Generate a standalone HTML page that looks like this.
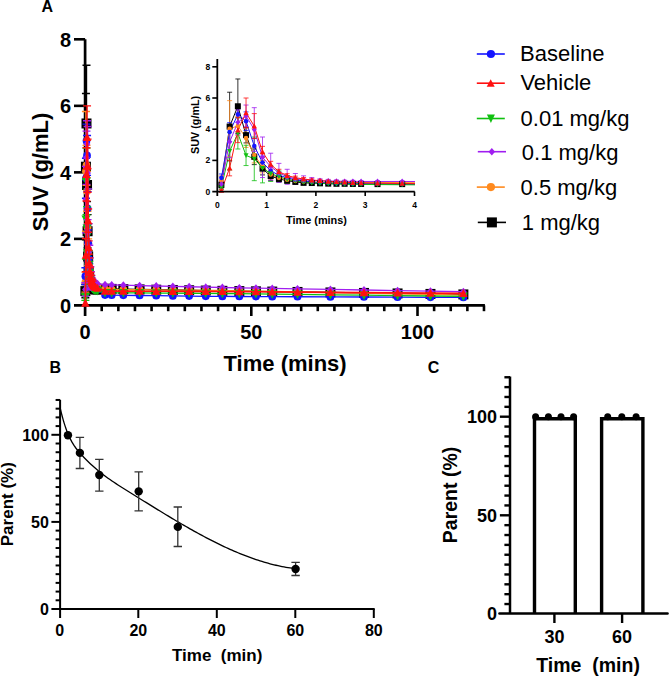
<!DOCTYPE html>
<html><head><meta charset="utf-8"><title>Figure</title>
<style>html,body{margin:0;padding:0;background:#fff;width:669px;height:677px;overflow:hidden}body{position:relative;font-family:"Liberation Sans", sans-serif}</style>
</head><body>
<svg width="669" height="677" viewBox="0 0 669 677" style="position:absolute;left:0;top:0" font-family='"Liberation Sans", sans-serif'>
<rect width="669" height="677" fill="#fff"/>
<text x="41.6" y="11.7" font-size="16" font-weight="bold" text-anchor="start" >A</text>
<g stroke="#000" fill="none">
<path d="M85.10,39.3V316" stroke-width="2.7"/>
<path d="M74,305.4H484.9" stroke-width="2.8"/>
<path d="M74,238.88H85.1" stroke-width="2.6"/>
<path d="M74,172.36H85.1" stroke-width="2.6"/>
<path d="M74,105.84H85.1" stroke-width="2.6"/>
<path d="M74,39.32H85.1" stroke-width="2.6"/>
<path d="M101.72,305.4V311.2" stroke-width="2.6"/>
<path d="M118.34,305.4V311.2" stroke-width="2.6"/>
<path d="M134.96,305.4V311.2" stroke-width="2.6"/>
<path d="M151.58,305.4V311.2" stroke-width="2.6"/>
<path d="M168.20,305.4V311.2" stroke-width="2.6"/>
<path d="M184.82,305.4V311.2" stroke-width="2.6"/>
<path d="M201.44,305.4V311.2" stroke-width="2.6"/>
<path d="M218.06,305.4V311.2" stroke-width="2.6"/>
<path d="M234.68,305.4V311.2" stroke-width="2.6"/>
<path d="M267.92,305.4V311.2" stroke-width="2.6"/>
<path d="M284.54,305.4V311.2" stroke-width="2.6"/>
<path d="M301.16,305.4V311.2" stroke-width="2.6"/>
<path d="M317.78,305.4V311.2" stroke-width="2.6"/>
<path d="M334.40,305.4V311.2" stroke-width="2.6"/>
<path d="M351.02,305.4V311.2" stroke-width="2.6"/>
<path d="M367.64,305.4V311.2" stroke-width="2.6"/>
<path d="M384.26,305.4V311.2" stroke-width="2.6"/>
<path d="M400.88,305.4V311.2" stroke-width="2.6"/>
<path d="M434.12,305.4V311.2" stroke-width="2.6"/>
<path d="M450.74,305.4V311.2" stroke-width="2.6"/>
<path d="M467.36,305.4V311.2" stroke-width="2.6"/>
<path d="M483.98,305.4V311.2" stroke-width="2.6"/>
<path d="M251.30,305.4V316" stroke-width="2.6"/>
<path d="M417.50,305.4V316" stroke-width="2.6"/>
</g>
<g>
<path d="M85.38,284.45V297.75M81.38,284.45h8M81.38,297.75h8" stroke="#000000" stroke-width="1.4" fill="none"/>
<path d="M85.93,93.53V239.88M81.93,93.53h8M81.93,239.88h8" stroke="#000000" stroke-width="1.4" fill="none"/>
<path d="M86.49,65.26V181.67M82.49,65.26h8M82.49,181.67h8" stroke="#000000" stroke-width="1.4" fill="none"/>
<path d="M87.04,168.37V201.63M83.04,168.37h8M83.04,201.63h8" stroke="#000000" stroke-width="1.4" fill="none"/>
<path d="M87.59,214.60V247.86M83.59,214.60h8M83.59,247.86h8" stroke="#000000" stroke-width="1.4" fill="none"/>
<path d="M88.15,243.20V269.81M84.15,243.20h8M84.15,269.81h8" stroke="#000000" stroke-width="1.4" fill="none"/>
<path d="M88.70,262.16V282.12M84.70,262.16h8M84.70,282.12h8" stroke="#000000" stroke-width="1.4" fill="none"/>
<path d="M89.25,271.81V285.11M85.25,271.81h8M85.25,285.11h8" stroke="#000000" stroke-width="1.4" fill="none"/>
<path d="M89.81,277.13V287.11M85.81,277.13h8M85.81,287.11h8" stroke="#000000" stroke-width="1.4" fill="none"/>
<path d="M90.36,281.45V288.10M86.36,281.45h8M86.36,288.10h8" stroke="#000000" stroke-width="1.4" fill="none"/>
<path d="M90.92,284.11V289.44M86.92,284.11h8M86.92,289.44h8" stroke="#000000" stroke-width="1.4" fill="none"/>
<rect x="80.38" y="286.10" width="10.00" height="10.00" fill="#000000"/>
<rect x="80.93" y="161.71" width="10.00" height="10.00" fill="#000000"/>
<rect x="81.49" y="118.47" width="10.00" height="10.00" fill="#000000"/>
<rect x="82.04" y="180.00" width="10.00" height="10.00" fill="#000000"/>
<rect x="82.59" y="226.23" width="10.00" height="10.00" fill="#000000"/>
<rect x="83.15" y="251.51" width="10.00" height="10.00" fill="#000000"/>
<rect x="83.70" y="267.14" width="10.00" height="10.00" fill="#000000"/>
<rect x="84.25" y="273.46" width="10.00" height="10.00" fill="#000000"/>
<rect x="84.81" y="277.12" width="10.00" height="10.00" fill="#000000"/>
<rect x="85.36" y="279.78" width="10.00" height="10.00" fill="#000000"/>
<rect x="85.92" y="281.77" width="10.00" height="10.00" fill="#000000"/>
<rect x="86.47" y="282.11" width="10.00" height="10.00" fill="#000000"/>
<rect x="87.02" y="282.77" width="10.00" height="10.00" fill="#000000"/>
<rect x="87.58" y="283.44" width="10.00" height="10.00" fill="#000000"/>
<rect x="88.13" y="283.77" width="10.00" height="10.00" fill="#000000"/>
<rect x="88.69" y="283.77" width="10.00" height="10.00" fill="#000000"/>
<rect x="89.24" y="284.10" width="10.00" height="10.00" fill="#000000"/>
<rect x="89.80" y="284.10" width="10.00" height="10.00" fill="#000000"/>
<rect x="90.90" y="284.44" width="10.00" height="10.00" fill="#000000"/>
<rect x="92.56" y="284.44" width="10.00" height="10.00" fill="#000000"/>
<rect x="100.04" y="283.77" width="10.00" height="10.00" fill="#000000"/>
<rect x="106.69" y="283.89" width="10.00" height="10.00" fill="#000000"/>
<rect x="118.33" y="284.09" width="10.00" height="10.00" fill="#000000"/>
<rect x="134.61" y="284.38" width="10.00" height="10.00" fill="#000000"/>
<rect x="151.23" y="284.67" width="10.00" height="10.00" fill="#000000"/>
<rect x="167.85" y="284.97" width="10.00" height="10.00" fill="#000000"/>
<rect x="184.14" y="285.25" width="10.00" height="10.00" fill="#000000"/>
<rect x="200.76" y="285.55" width="10.00" height="10.00" fill="#000000"/>
<rect x="217.38" y="285.83" width="10.00" height="10.00" fill="#000000"/>
<rect x="234.33" y="286.08" width="10.00" height="10.00" fill="#000000"/>
<rect x="250.95" y="286.33" width="10.00" height="10.00" fill="#000000"/>
<rect x="267.24" y="286.57" width="10.00" height="10.00" fill="#000000"/>
<rect x="292.50" y="286.95" width="10.00" height="10.00" fill="#000000"/>
<rect x="325.41" y="287.44" width="10.00" height="10.00" fill="#000000"/>
<rect x="358.98" y="287.94" width="10.00" height="10.00" fill="#000000"/>
<rect x="392.56" y="288.44" width="10.00" height="10.00" fill="#000000"/>
<rect x="425.46" y="288.92" width="10.00" height="10.00" fill="#000000"/>
<rect x="458.37" y="289.41" width="10.00" height="10.00" fill="#000000"/>
<polyline points="85.38,291.10 85.93,166.71 86.49,123.47 87.04,185.00 87.59,231.23 88.15,256.51 88.70,272.14 89.25,278.46 89.81,282.12 90.36,284.78 90.92,286.77 91.47,287.11 92.02,287.77 92.58,288.44 93.13,288.77 93.69,288.77 94.24,289.10 94.80,289.10 95.90,289.44 97.56,289.44 105.04,288.77 111.69,288.89 123.33,289.09 139.61,289.38 156.23,289.67 172.85,289.97 189.14,290.25 205.76,290.55 222.38,290.83 239.33,291.08 255.95,291.33 272.24,291.57 297.50,291.95 330.41,292.44 363.98,292.94 397.56,293.44 430.46,293.92 463.37,294.41" fill="none" stroke="#000000" stroke-width="1.3"/>
<path d="M85.38,272.14V292.10M81.38,272.14h8M81.38,292.10h8" stroke="#ff8a1e" stroke-width="1.4" fill="none"/>
<path d="M85.93,111.49V231.23M81.93,111.49h8M81.93,231.23h8" stroke="#ff8a1e" stroke-width="1.4" fill="none"/>
<path d="M86.49,145.42V185.33M82.49,145.42h8M82.49,185.33h8" stroke="#ff8a1e" stroke-width="1.4" fill="none"/>
<path d="M87.04,171.36V211.27M83.04,171.36h8M83.04,211.27h8" stroke="#ff8a1e" stroke-width="1.4" fill="none"/>
<path d="M87.59,210.94V244.20M83.59,210.94h8M83.59,244.20h8" stroke="#ff8a1e" stroke-width="1.4" fill="none"/>
<path d="M88.15,238.88V265.49M84.15,238.88h8M84.15,265.49h8" stroke="#ff8a1e" stroke-width="1.4" fill="none"/>
<path d="M88.70,258.84V278.79M84.70,258.84h8M84.70,278.79h8" stroke="#ff8a1e" stroke-width="1.4" fill="none"/>
<path d="M89.25,269.48V282.78M85.25,269.48h8M85.25,282.78h8" stroke="#ff8a1e" stroke-width="1.4" fill="none"/>
<path d="M89.81,275.13V285.11M85.81,275.13h8M85.81,285.11h8" stroke="#ff8a1e" stroke-width="1.4" fill="none"/>
<path d="M90.36,279.12V285.78M86.36,279.12h8M86.36,285.78h8" stroke="#ff8a1e" stroke-width="1.4" fill="none"/>
<path d="M90.92,281.45V286.77M86.92,281.45h8M86.92,286.77h8" stroke="#ff8a1e" stroke-width="1.4" fill="none"/>
<circle cx="85.38" cy="282.12" r="3.86" fill="#ff8a1e"/>
<circle cx="85.93" cy="171.36" r="3.86" fill="#ff8a1e"/>
<circle cx="86.49" cy="165.38" r="3.86" fill="#ff8a1e"/>
<circle cx="87.04" cy="191.32" r="3.86" fill="#ff8a1e"/>
<circle cx="87.59" cy="227.57" r="3.86" fill="#ff8a1e"/>
<circle cx="88.15" cy="252.18" r="3.86" fill="#ff8a1e"/>
<circle cx="88.70" cy="268.81" r="3.86" fill="#ff8a1e"/>
<circle cx="89.25" cy="276.13" r="3.86" fill="#ff8a1e"/>
<circle cx="89.81" cy="280.12" r="3.86" fill="#ff8a1e"/>
<circle cx="90.36" cy="282.45" r="3.86" fill="#ff8a1e"/>
<circle cx="90.92" cy="284.11" r="3.86" fill="#ff8a1e"/>
<circle cx="91.47" cy="284.78" r="3.86" fill="#ff8a1e"/>
<circle cx="92.02" cy="285.44" r="3.86" fill="#ff8a1e"/>
<circle cx="92.58" cy="285.78" r="3.86" fill="#ff8a1e"/>
<circle cx="93.13" cy="286.11" r="3.86" fill="#ff8a1e"/>
<circle cx="93.69" cy="286.11" r="3.86" fill="#ff8a1e"/>
<circle cx="94.24" cy="286.11" r="3.86" fill="#ff8a1e"/>
<circle cx="94.80" cy="286.11" r="3.86" fill="#ff8a1e"/>
<circle cx="95.90" cy="286.11" r="3.86" fill="#ff8a1e"/>
<circle cx="97.56" cy="286.11" r="3.86" fill="#ff8a1e"/>
<circle cx="105.04" cy="289.44" r="3.86" fill="#ff8a1e"/>
<circle cx="111.69" cy="289.49" r="3.86" fill="#ff8a1e"/>
<circle cx="123.33" cy="289.60" r="3.86" fill="#ff8a1e"/>
<circle cx="139.61" cy="289.74" r="3.86" fill="#ff8a1e"/>
<circle cx="156.23" cy="289.89" r="3.86" fill="#ff8a1e"/>
<circle cx="172.85" cy="290.03" r="3.86" fill="#ff8a1e"/>
<circle cx="189.14" cy="290.18" r="3.86" fill="#ff8a1e"/>
<circle cx="205.76" cy="290.32" r="3.86" fill="#ff8a1e"/>
<circle cx="222.38" cy="290.51" r="3.86" fill="#ff8a1e"/>
<circle cx="239.33" cy="290.84" r="3.86" fill="#ff8a1e"/>
<circle cx="255.95" cy="291.15" r="3.86" fill="#ff8a1e"/>
<circle cx="272.24" cy="291.46" r="3.86" fill="#ff8a1e"/>
<circle cx="297.50" cy="291.94" r="3.86" fill="#ff8a1e"/>
<circle cx="330.41" cy="292.56" r="3.86" fill="#ff8a1e"/>
<circle cx="363.98" cy="293.20" r="3.86" fill="#ff8a1e"/>
<circle cx="397.56" cy="293.83" r="3.86" fill="#ff8a1e"/>
<circle cx="430.46" cy="294.45" r="3.86" fill="#ff8a1e"/>
<circle cx="463.37" cy="295.08" r="3.86" fill="#ff8a1e"/>
<polyline points="85.38,282.12 85.93,171.36 86.49,165.38 87.04,191.32 87.59,227.57 88.15,252.18 88.70,268.81 89.25,276.13 89.81,280.12 90.36,282.45 90.92,284.11 91.47,284.78 92.02,285.44 92.58,285.78 93.13,286.11 93.69,286.11 94.24,286.11 94.80,286.11 95.90,286.11 97.56,286.11 105.04,289.44 111.69,289.49 123.33,289.60 139.61,289.74 156.23,289.89 172.85,290.03 189.14,290.18 205.76,290.32 222.38,290.51 239.33,290.84 255.95,291.15 272.24,291.46 297.50,291.94 330.41,292.56 363.98,293.20 397.56,293.83 430.46,294.45 463.37,295.08" fill="none" stroke="#ff8a1e" stroke-width="1.3"/>
<path d="M85.38,267.82V284.45M81.38,267.82h8M81.38,284.45h8" stroke="#1414ff" stroke-width="1.4" fill="none"/>
<path d="M85.93,158.39V198.30M81.93,158.39h8M81.93,198.30h8" stroke="#1414ff" stroke-width="1.4" fill="none"/>
<path d="M86.49,124.13V157.39M82.49,124.13h8M82.49,157.39h8" stroke="#1414ff" stroke-width="1.4" fill="none"/>
<path d="M87.04,135.44V175.35M83.04,135.44h8M83.04,175.35h8" stroke="#1414ff" stroke-width="1.4" fill="none"/>
<path d="M87.59,191.65V224.91M83.59,191.65h8M83.59,224.91h8" stroke="#1414ff" stroke-width="1.4" fill="none"/>
<path d="M88.15,229.90V256.51M84.15,229.90h8M84.15,256.51h8" stroke="#1414ff" stroke-width="1.4" fill="none"/>
<path d="M88.70,251.19V271.14M84.70,251.19h8M84.70,271.14h8" stroke="#1414ff" stroke-width="1.4" fill="none"/>
<path d="M89.25,263.82V277.13M85.25,263.82h8M85.25,277.13h8" stroke="#1414ff" stroke-width="1.4" fill="none"/>
<path d="M89.81,271.14V281.12M85.81,271.14h8M85.81,281.12h8" stroke="#1414ff" stroke-width="1.4" fill="none"/>
<path d="M90.36,277.13V283.78M86.36,277.13h8M86.36,283.78h8" stroke="#1414ff" stroke-width="1.4" fill="none"/>
<path d="M90.92,280.12V285.44M86.92,280.12h8M86.92,285.44h8" stroke="#1414ff" stroke-width="1.4" fill="none"/>
<circle cx="85.38" cy="276.13" r="3.86" fill="#1414ff"/>
<circle cx="85.93" cy="178.35" r="3.86" fill="#1414ff"/>
<circle cx="86.49" cy="140.76" r="3.86" fill="#1414ff"/>
<circle cx="87.04" cy="155.40" r="3.86" fill="#1414ff"/>
<circle cx="87.59" cy="208.28" r="3.86" fill="#1414ff"/>
<circle cx="88.15" cy="243.20" r="3.86" fill="#1414ff"/>
<circle cx="88.70" cy="261.16" r="3.86" fill="#1414ff"/>
<circle cx="89.25" cy="270.48" r="3.86" fill="#1414ff"/>
<circle cx="89.81" cy="276.13" r="3.86" fill="#1414ff"/>
<circle cx="90.36" cy="280.45" r="3.86" fill="#1414ff"/>
<circle cx="90.92" cy="282.78" r="3.86" fill="#1414ff"/>
<circle cx="91.47" cy="284.78" r="3.86" fill="#1414ff"/>
<circle cx="92.02" cy="286.11" r="3.86" fill="#1414ff"/>
<circle cx="92.58" cy="287.11" r="3.86" fill="#1414ff"/>
<circle cx="93.13" cy="287.77" r="3.86" fill="#1414ff"/>
<circle cx="93.69" cy="288.10" r="3.86" fill="#1414ff"/>
<circle cx="94.24" cy="288.44" r="3.86" fill="#1414ff"/>
<circle cx="94.80" cy="288.77" r="3.86" fill="#1414ff"/>
<circle cx="95.90" cy="289.10" r="3.86" fill="#1414ff"/>
<circle cx="97.56" cy="289.44" r="3.86" fill="#1414ff"/>
<circle cx="105.04" cy="295.09" r="3.86" fill="#1414ff"/>
<circle cx="111.69" cy="295.17" r="3.86" fill="#1414ff"/>
<circle cx="123.33" cy="295.30" r="3.86" fill="#1414ff"/>
<circle cx="139.61" cy="295.50" r="3.86" fill="#1414ff"/>
<circle cx="156.23" cy="295.69" r="3.86" fill="#1414ff"/>
<circle cx="172.85" cy="295.89" r="3.86" fill="#1414ff"/>
<circle cx="189.14" cy="296.08" r="3.86" fill="#1414ff"/>
<circle cx="205.76" cy="296.28" r="3.86" fill="#1414ff"/>
<circle cx="222.38" cy="296.44" r="3.86" fill="#1414ff"/>
<circle cx="239.33" cy="296.51" r="3.86" fill="#1414ff"/>
<circle cx="255.95" cy="296.57" r="3.86" fill="#1414ff"/>
<circle cx="272.24" cy="296.64" r="3.86" fill="#1414ff"/>
<circle cx="297.50" cy="296.74" r="3.86" fill="#1414ff"/>
<circle cx="330.41" cy="296.88" r="3.86" fill="#1414ff"/>
<circle cx="363.98" cy="297.01" r="3.86" fill="#1414ff"/>
<circle cx="397.56" cy="297.15" r="3.86" fill="#1414ff"/>
<circle cx="430.46" cy="297.28" r="3.86" fill="#1414ff"/>
<circle cx="463.37" cy="297.41" r="3.86" fill="#1414ff"/>
<polyline points="85.38,276.13 85.93,178.35 86.49,140.76 87.04,155.40 87.59,208.28 88.15,243.20 88.70,261.16 89.25,270.48 89.81,276.13 90.36,280.45 90.92,282.78 91.47,284.78 92.02,286.11 92.58,287.11 93.13,287.77 93.69,288.10 94.24,288.44 94.80,288.77 95.90,289.10 97.56,289.44 105.04,295.09 111.69,295.17 123.33,295.30 139.61,295.50 156.23,295.69 172.85,295.89 189.14,296.08 205.76,296.28 222.38,296.44 239.33,296.51 255.95,296.57 272.24,296.64 297.50,296.74 330.41,296.88 363.98,297.01 397.56,297.15 430.46,297.28 463.37,297.41" fill="none" stroke="#1414ff" stroke-width="1.3"/>
<path d="M85.38,293.76V300.41M81.38,293.76h8M81.38,300.41h8" stroke="#10c010" stroke-width="1.4" fill="none"/>
<path d="M85.93,179.34V259.17M81.93,179.34h8M81.93,259.17h8" stroke="#10c010" stroke-width="1.4" fill="none"/>
<path d="M86.49,148.08V214.60M82.49,148.08h8M82.49,214.60h8" stroke="#10c010" stroke-width="1.4" fill="none"/>
<path d="M87.04,206.62V249.86M83.04,206.62h8M83.04,249.86h8" stroke="#10c010" stroke-width="1.4" fill="none"/>
<path d="M87.59,188.99V282.12M83.59,188.99h8M83.59,282.12h8" stroke="#10c010" stroke-width="1.4" fill="none"/>
<path d="M88.15,223.58V286.77M84.15,223.58h8M84.15,286.77h8" stroke="#10c010" stroke-width="1.4" fill="none"/>
<path d="M88.70,250.52V283.78M84.70,250.52h8M84.70,283.78h8" stroke="#10c010" stroke-width="1.4" fill="none"/>
<path d="M89.25,261.50V284.78M85.25,261.50h8M85.25,284.78h8" stroke="#10c010" stroke-width="1.4" fill="none"/>
<path d="M89.81,271.14V287.77M85.81,271.14h8M85.81,287.77h8" stroke="#10c010" stroke-width="1.4" fill="none"/>
<path d="M90.36,277.79V287.77M86.36,277.79h8M86.36,287.77h8" stroke="#10c010" stroke-width="1.4" fill="none"/>
<path d="M90.92,282.12V288.77M86.92,282.12h8M86.92,288.77h8" stroke="#10c010" stroke-width="1.4" fill="none"/>
<path d="M91.47,284.11V289.44M87.47,284.11h8M87.47,289.44h8" stroke="#10c010" stroke-width="1.4" fill="none"/>
<polygon points="85.38,301.79 89.88,293.24 80.88,293.24" fill="#10c010"/>
<polygon points="85.93,223.96 90.43,215.41 81.43,215.41" fill="#10c010"/>
<polygon points="86.49,186.04 90.99,177.49 81.99,177.49" fill="#10c010"/>
<polygon points="87.04,232.94 91.54,224.39 82.54,224.39" fill="#10c010"/>
<polygon points="87.59,240.26 92.09,231.71 83.09,231.71" fill="#10c010"/>
<polygon points="88.15,259.88 92.65,251.33 83.65,251.33" fill="#10c010"/>
<polygon points="88.70,271.85 93.20,263.30 84.20,263.30" fill="#10c010"/>
<polygon points="89.25,277.84 93.75,269.29 84.75,269.29" fill="#10c010"/>
<polygon points="89.81,284.16 94.31,275.61 85.31,275.61" fill="#10c010"/>
<polygon points="90.36,287.49 94.86,278.94 85.86,278.94" fill="#10c010"/>
<polygon points="90.92,290.15 95.42,281.60 86.42,281.60" fill="#10c010"/>
<polygon points="91.47,291.48 95.97,282.93 86.97,282.93" fill="#10c010"/>
<polygon points="92.02,292.47 96.52,283.92 87.52,283.92" fill="#10c010"/>
<polygon points="92.58,293.14 97.08,284.59 88.08,284.59" fill="#10c010"/>
<polygon points="93.13,293.81 97.63,285.26 88.63,285.26" fill="#10c010"/>
<polygon points="93.69,294.14 98.19,285.59 89.19,285.59" fill="#10c010"/>
<polygon points="94.24,294.47 98.74,285.92 89.74,285.92" fill="#10c010"/>
<polygon points="94.80,294.80 99.30,286.25 90.30,286.25" fill="#10c010"/>
<polygon points="95.90,295.14 100.40,286.59 91.40,286.59" fill="#10c010"/>
<polygon points="97.56,295.47 102.06,286.92 93.06,286.92" fill="#10c010"/>
<polygon points="105.04,297.46 109.54,288.91 100.54,288.91" fill="#10c010"/>
<polygon points="111.69,297.50 116.19,288.95 107.19,288.95" fill="#10c010"/>
<polygon points="123.33,297.57 127.83,289.02 118.83,289.02" fill="#10c010"/>
<polygon points="139.61,297.67 144.11,289.12 135.11,289.12" fill="#10c010"/>
<polygon points="156.23,297.76 160.73,289.21 151.73,289.21" fill="#10c010"/>
<polygon points="172.85,297.86 177.35,289.31 168.35,289.31" fill="#10c010"/>
<polygon points="189.14,297.96 193.64,289.41 184.64,289.41" fill="#10c010"/>
<polygon points="205.76,298.06 210.26,289.51 201.26,289.51" fill="#10c010"/>
<polygon points="222.38,298.18 226.88,289.63 217.88,289.63" fill="#10c010"/>
<polygon points="239.33,298.39 243.83,289.84 234.83,289.84" fill="#10c010"/>
<polygon points="255.95,298.59 260.45,290.04 251.45,290.04" fill="#10c010"/>
<polygon points="272.24,298.79 276.74,290.24 267.74,290.24" fill="#10c010"/>
<polygon points="297.50,299.10 302.00,290.55 293.00,290.55" fill="#10c010"/>
<polygon points="330.41,299.50 334.91,290.95 325.91,290.95" fill="#10c010"/>
<polygon points="363.98,299.90 368.48,291.35 359.48,291.35" fill="#10c010"/>
<polygon points="397.56,300.31 402.06,291.76 393.06,291.76" fill="#10c010"/>
<polygon points="430.46,300.71 434.96,292.16 425.96,292.16" fill="#10c010"/>
<polygon points="463.37,301.11 467.87,292.56 458.87,292.56" fill="#10c010"/>
<polyline points="85.38,297.08 85.93,219.26 86.49,181.34 87.04,228.24 87.59,235.55 88.15,255.18 88.70,267.15 89.25,273.14 89.81,279.46 90.36,282.78 90.92,285.44 91.47,286.77 92.02,287.77 92.58,288.44 93.13,289.10 93.69,289.44 94.24,289.77 94.80,290.10 95.90,290.43 97.56,290.77 105.04,292.76 111.69,292.80 123.33,292.87 139.61,292.96 156.23,293.06 172.85,293.16 189.14,293.26 205.76,293.35 222.38,293.48 239.33,293.69 255.95,293.89 272.24,294.09 297.50,294.39 330.41,294.79 363.98,295.20 397.56,295.61 430.46,296.01 463.37,296.41" fill="none" stroke="#10c010" stroke-width="1.3"/>
<path d="M85.38,282.78V296.09M81.38,282.78h8M81.38,296.09h8" stroke="#a01ef0" stroke-width="1.4" fill="none"/>
<path d="M85.93,166.37V232.89M81.93,166.37h8M81.93,232.89h8" stroke="#a01ef0" stroke-width="1.4" fill="none"/>
<path d="M86.49,131.12V184.33M82.49,131.12h8M82.49,184.33h8" stroke="#a01ef0" stroke-width="1.4" fill="none"/>
<path d="M87.04,120.81V167.37M83.04,120.81h8M83.04,167.37h8" stroke="#a01ef0" stroke-width="1.4" fill="none"/>
<path d="M87.59,126.46V219.59M83.59,126.46h8M83.59,219.59h8" stroke="#a01ef0" stroke-width="1.4" fill="none"/>
<path d="M88.15,188.99V275.47M84.15,188.99h8M84.15,275.47h8" stroke="#a01ef0" stroke-width="1.4" fill="none"/>
<path d="M88.70,223.58V280.79M84.70,223.58h8M84.70,280.79h8" stroke="#a01ef0" stroke-width="1.4" fill="none"/>
<path d="M89.25,245.20V285.78M85.25,245.20h8M85.25,285.78h8" stroke="#a01ef0" stroke-width="1.4" fill="none"/>
<path d="M89.81,257.84V289.77M85.81,257.84h8M85.81,289.77h8" stroke="#a01ef0" stroke-width="1.4" fill="none"/>
<path d="M90.36,266.82V289.44M86.36,266.82h8M86.36,289.44h8" stroke="#a01ef0" stroke-width="1.4" fill="none"/>
<path d="M90.92,271.81V288.44M86.92,271.81h8M86.92,288.44h8" stroke="#a01ef0" stroke-width="1.4" fill="none"/>
<path d="M91.47,275.47V287.44M87.47,275.47h8M87.47,287.44h8" stroke="#a01ef0" stroke-width="1.4" fill="none"/>
<path d="M92.02,278.13V286.11M88.02,278.13h8M88.02,286.11h8" stroke="#a01ef0" stroke-width="1.4" fill="none"/>
<path d="M92.58,279.46V286.11M88.58,279.46h8M88.58,286.11h8" stroke="#a01ef0" stroke-width="1.4" fill="none"/>
<path d="M93.13,280.45V285.78M89.13,280.45h8M89.13,285.78h8" stroke="#a01ef0" stroke-width="1.4" fill="none"/>
<path d="M93.69,281.12V285.78M89.69,281.12h8M89.69,285.78h8" stroke="#a01ef0" stroke-width="1.4" fill="none"/>
<polygon points="85.38,285.50 88.75,289.44 85.38,293.37 82.00,289.44" fill="#a01ef0"/>
<polygon points="85.93,195.70 89.31,199.63 85.93,203.57 82.56,199.63" fill="#a01ef0"/>
<polygon points="86.49,153.79 89.86,157.73 86.49,161.66 83.11,157.73" fill="#a01ef0"/>
<polygon points="87.04,140.15 90.41,144.09 87.04,148.03 83.66,144.09" fill="#a01ef0"/>
<polygon points="87.59,169.09 90.97,173.03 87.59,176.96 84.22,173.03" fill="#a01ef0"/>
<polygon points="88.15,228.29 91.52,232.23 88.15,236.17 84.77,232.23" fill="#a01ef0"/>
<polygon points="88.70,248.25 92.07,252.18 88.70,256.12 85.32,252.18" fill="#a01ef0"/>
<polygon points="89.25,261.55 92.63,265.49 89.25,269.43 85.88,265.49" fill="#a01ef0"/>
<polygon points="89.81,269.87 93.19,273.80 89.81,277.74 86.44,273.80" fill="#a01ef0"/>
<polygon points="90.36,274.19 93.74,278.13 90.36,282.06 86.99,278.13" fill="#a01ef0"/>
<polygon points="90.92,276.18 94.29,280.12 90.92,284.06 87.54,280.12" fill="#a01ef0"/>
<polygon points="91.47,277.52 94.85,281.45 91.47,285.39 88.10,281.45" fill="#a01ef0"/>
<polygon points="92.02,278.18 95.40,282.12 92.02,286.06 88.65,282.12" fill="#a01ef0"/>
<polygon points="92.58,278.85 95.95,282.78 92.58,286.72 89.20,282.78" fill="#a01ef0"/>
<polygon points="93.13,279.18 96.51,283.12 93.13,287.05 89.76,283.12" fill="#a01ef0"/>
<polygon points="93.69,279.51 97.06,283.45 93.69,287.39 90.31,283.45" fill="#a01ef0"/>
<polygon points="94.24,279.51 97.62,283.45 94.24,287.39 90.87,283.45" fill="#a01ef0"/>
<polygon points="94.80,279.84 98.17,283.78 94.80,287.72 91.42,283.78" fill="#a01ef0"/>
<polygon points="95.90,279.84 99.28,283.78 95.90,287.72 92.53,283.78" fill="#a01ef0"/>
<polygon points="97.56,279.84 100.94,283.78 97.56,287.72 94.19,283.78" fill="#a01ef0"/>
<polygon points="105.04,280.84 108.42,284.78 105.04,288.72 101.67,284.78" fill="#a01ef0"/>
<polygon points="111.69,281.00 115.07,284.94 111.69,288.87 108.32,284.94" fill="#a01ef0"/>
<polygon points="123.33,281.27 126.70,285.21 123.33,289.15 119.95,285.21" fill="#a01ef0"/>
<polygon points="139.61,281.66 142.99,285.59 139.61,289.53 136.24,285.59" fill="#a01ef0"/>
<polygon points="156.23,282.05 159.61,285.98 156.23,289.92 152.86,285.98" fill="#a01ef0"/>
<polygon points="172.85,282.44 176.23,286.38 172.85,290.31 169.48,286.38" fill="#a01ef0"/>
<polygon points="189.14,282.82 192.52,286.76 189.14,290.70 185.77,286.76" fill="#a01ef0"/>
<polygon points="205.76,283.21 209.14,287.15 205.76,291.09 202.39,287.15" fill="#a01ef0"/>
<polygon points="222.38,283.58 225.76,287.52 222.38,291.45 219.01,287.52" fill="#a01ef0"/>
<polygon points="239.33,283.88 242.71,287.81 239.33,291.75 235.96,287.81" fill="#a01ef0"/>
<polygon points="255.95,284.17 259.33,288.11 255.95,292.04 252.58,288.11" fill="#a01ef0"/>
<polygon points="272.24,284.45 275.62,288.39 272.24,292.33 268.87,288.39" fill="#a01ef0"/>
<polygon points="297.50,284.90 300.88,288.84 297.50,292.77 294.13,288.84" fill="#a01ef0"/>
<polygon points="330.41,285.48 333.79,289.41 330.41,293.35 327.04,289.41" fill="#a01ef0"/>
<polygon points="363.98,286.07 367.36,290.00 363.98,293.94 360.61,290.00" fill="#a01ef0"/>
<polygon points="397.56,286.66 400.93,290.59 397.56,294.53 394.18,290.59" fill="#a01ef0"/>
<polygon points="430.46,287.24 433.84,291.17 430.46,295.11 427.09,291.17" fill="#a01ef0"/>
<polygon points="463.37,287.81 466.75,291.75 463.37,295.69 460.00,291.75" fill="#a01ef0"/>
<polyline points="85.38,289.44 85.93,199.63 86.49,157.73 87.04,144.09 87.59,173.03 88.15,232.23 88.70,252.18 89.25,265.49 89.81,273.80 90.36,278.13 90.92,280.12 91.47,281.45 92.02,282.12 92.58,282.78 93.13,283.12 93.69,283.45 94.24,283.45 94.80,283.78 95.90,283.78 97.56,283.78 105.04,284.78 111.69,284.94 123.33,285.21 139.61,285.59 156.23,285.98 172.85,286.38 189.14,286.76 205.76,287.15 222.38,287.52 239.33,287.81 255.95,288.11 272.24,288.39 297.50,288.84 330.41,289.41 363.98,290.00 397.56,290.59 430.46,291.17 463.37,291.75" fill="none" stroke="#a01ef0" stroke-width="1.3"/>
<path d="M85.93,238.55V271.81M81.93,238.55h8M81.93,271.81h8" stroke="#ff1010" stroke-width="1.4" fill="none"/>
<path d="M86.49,147.75V200.96M82.49,147.75h8M82.49,200.96h8" stroke="#ff1010" stroke-width="1.4" fill="none"/>
<path d="M87.04,105.84V169.03M83.04,105.84h8M83.04,169.03h8" stroke="#ff1010" stroke-width="1.4" fill="none"/>
<path d="M87.59,139.10V192.32M83.59,139.10h8M83.59,192.32h8" stroke="#ff1010" stroke-width="1.4" fill="none"/>
<path d="M88.15,208.95V232.23M84.15,208.95h8M84.15,232.23h8" stroke="#ff1010" stroke-width="1.4" fill="none"/>
<path d="M88.70,240.88V254.18M84.70,240.88h8M84.70,254.18h8" stroke="#ff1010" stroke-width="1.4" fill="none"/>
<path d="M89.25,257.84V267.82M85.25,257.84h8M85.25,267.82h8" stroke="#ff1010" stroke-width="1.4" fill="none"/>
<path d="M89.81,267.15V275.13M85.81,267.15h8M85.81,275.13h8" stroke="#ff1010" stroke-width="1.4" fill="none"/>
<path d="M90.36,272.47V279.12M86.36,272.47h8M86.36,279.12h8" stroke="#ff1010" stroke-width="1.4" fill="none"/>
<path d="M90.92,275.47V281.45M86.92,275.47h8M86.92,281.45h8" stroke="#ff1010" stroke-width="1.4" fill="none"/>
<path d="M91.47,278.13V283.45M87.47,278.13h8M87.47,283.45h8" stroke="#ff1010" stroke-width="1.4" fill="none"/>
<path d="M92.02,279.79V284.45M88.02,279.79h8M88.02,284.45h8" stroke="#ff1010" stroke-width="1.4" fill="none"/>
<path d="M92.58,281.12V285.78M88.58,281.12h8M88.58,285.78h8" stroke="#ff1010" stroke-width="1.4" fill="none"/>
<polygon points="85.38,298.63 89.63,306.71 81.13,306.71" fill="#ff1010"/>
<polygon points="85.93,250.74 90.18,258.81 81.68,258.81" fill="#ff1010"/>
<polygon points="86.49,169.91 90.74,177.99 82.24,177.99" fill="#ff1010"/>
<polygon points="87.04,133.00 91.29,141.07 82.79,141.07" fill="#ff1010"/>
<polygon points="87.59,161.27 91.84,169.34 83.34,169.34" fill="#ff1010"/>
<polygon points="88.15,216.15 92.40,224.22 83.90,224.22" fill="#ff1010"/>
<polygon points="88.70,243.09 92.95,251.16 84.45,251.16" fill="#ff1010"/>
<polygon points="89.25,258.39 93.50,266.46 85.00,266.46" fill="#ff1010"/>
<polygon points="89.81,266.70 94.06,274.78 85.56,274.78" fill="#ff1010"/>
<polygon points="90.36,271.36 94.61,279.43 86.11,279.43" fill="#ff1010"/>
<polygon points="90.92,274.02 95.17,282.09 86.67,282.09" fill="#ff1010"/>
<polygon points="91.47,276.35 95.72,284.42 87.22,284.42" fill="#ff1010"/>
<polygon points="92.02,277.68 96.27,285.75 87.77,285.75" fill="#ff1010"/>
<polygon points="92.58,279.01 96.83,287.08 88.33,287.08" fill="#ff1010"/>
<polygon points="93.13,280.00 97.38,288.08 88.88,288.08" fill="#ff1010"/>
<polygon points="93.69,281.00 97.94,289.08 89.44,289.08" fill="#ff1010"/>
<polygon points="94.24,281.67 98.49,289.74 89.99,289.74" fill="#ff1010"/>
<polygon points="94.80,282.33 99.05,290.41 90.55,290.41" fill="#ff1010"/>
<polygon points="95.90,283.00 100.15,291.07 91.65,291.07" fill="#ff1010"/>
<polygon points="97.56,283.66 101.81,291.74 93.31,291.74" fill="#ff1010"/>
<polygon points="105.04,286.66 109.29,294.73 100.79,294.73" fill="#ff1010"/>
<polygon points="111.69,286.68 115.94,294.75 107.44,294.75" fill="#ff1010"/>
<polygon points="123.33,286.71 127.58,294.79 119.08,294.79" fill="#ff1010"/>
<polygon points="139.61,286.76 143.86,294.83 135.36,294.83" fill="#ff1010"/>
<polygon points="156.23,286.81 160.48,294.88 151.98,294.88" fill="#ff1010"/>
<polygon points="172.85,286.86 177.10,294.93 168.60,294.93" fill="#ff1010"/>
<polygon points="189.14,286.90 193.39,294.98 184.89,294.98" fill="#ff1010"/>
<polygon points="205.76,286.95 210.01,295.03 201.51,295.03" fill="#ff1010"/>
<polygon points="222.38,287.02 226.63,295.10 218.13,295.10" fill="#ff1010"/>
<polygon points="239.33,287.16 243.58,295.24 235.08,295.24" fill="#ff1010"/>
<polygon points="255.95,287.30 260.20,295.37 251.70,295.37" fill="#ff1010"/>
<polygon points="272.24,287.43 276.49,295.50 267.99,295.50" fill="#ff1010"/>
<polygon points="297.50,287.63 301.75,295.71 293.25,295.71" fill="#ff1010"/>
<polygon points="330.41,287.90 334.66,295.98 326.16,295.98" fill="#ff1010"/>
<polygon points="363.98,288.17 368.23,296.25 359.73,296.25" fill="#ff1010"/>
<polygon points="397.56,288.45 401.81,296.52 393.31,296.52" fill="#ff1010"/>
<polygon points="430.46,288.71 434.71,296.79 426.21,296.79" fill="#ff1010"/>
<polygon points="463.37,288.98 467.62,297.05 459.12,297.05" fill="#ff1010"/>
<polyline points="85.38,303.07 85.93,255.18 86.49,174.36 87.04,137.44 87.59,165.71 88.15,220.59 88.70,247.53 89.25,262.83 89.81,271.14 90.36,275.80 90.92,278.46 91.47,280.79 92.02,282.12 92.58,283.45 93.13,284.45 93.69,285.44 94.24,286.11 94.80,286.77 95.90,287.44 97.56,288.10 105.04,291.10 111.69,291.12 123.33,291.15 139.61,291.20 156.23,291.25 172.85,291.30 189.14,291.35 205.76,291.39 222.38,291.47 239.33,291.60 255.95,291.74 272.24,291.87 297.50,292.08 330.41,292.34 363.98,292.61 397.56,292.89 430.46,293.15 463.37,293.42" fill="none" stroke="#ff1010" stroke-width="1.6"/>
</g>
<text x="71" y="312.6" font-size="20" font-weight="bold" text-anchor="end" >0</text>
<text x="71" y="246.08" font-size="20" font-weight="bold" text-anchor="end" >2</text>
<text x="71" y="179.56" font-size="20" font-weight="bold" text-anchor="end" >4</text>
<text x="71" y="113.04" font-size="20" font-weight="bold" text-anchor="end" >6</text>
<text x="71" y="46.52" font-size="20" font-weight="bold" text-anchor="end" >8</text>
<text x="85.1" y="338.6" font-size="20" font-weight="bold" text-anchor="middle" >0</text>
<text x="251.3" y="338.6" font-size="20" font-weight="bold" text-anchor="middle" >50</text>
<text x="417.5" y="338.6" font-size="20" font-weight="bold" text-anchor="middle" >100</text>
<text x="285.1" y="370.8" font-size="22" font-weight="bold" text-anchor="middle" >Time (mins)</text>
<text transform="translate(47.7,172) rotate(-90)" font-size="22" font-weight="bold" text-anchor="middle">SUV (g/mL)</text>
<defs><clipPath id="ic"><rect x="217" y="40" width="198" height="160"/></clipPath></defs>
<g clip-path="url(#ic)">
<polyline points="221.39,184.89 229.62,126.55 237.86,106.27 246.04,135.13 254.28,156.81 262.51,168.67 270.69,176.00 278.93,178.96 287.16,180.68 295.34,181.93 303.57,182.86 311.81,183.02 319.99,183.33 328.23,183.64 336.46,183.80 344.64,183.80 352.88,183.96 361.11,183.96 377.52,184.11 402.18,184.11 513.10,183.80" fill="none" stroke="#000000" stroke-width="1"/>
<polyline points="221.39,180.68 229.62,128.73 237.86,125.92 246.04,138.09 254.28,155.10 262.51,166.64 270.69,174.44 278.93,177.87 287.16,179.74 295.34,180.84 303.57,181.62 311.81,181.93 319.99,182.24 328.23,182.40 336.46,182.55 344.64,182.55 352.88,182.55 361.11,182.55 377.52,182.55 402.18,182.55 513.10,184.11" fill="none" stroke="#ff8a1e" stroke-width="1"/>
<polyline points="221.39,177.87 229.62,132.01 237.86,114.38 246.04,121.24 254.28,146.05 262.51,162.43 270.69,170.85 278.93,175.22 287.16,177.87 295.34,179.90 303.57,180.99 311.81,181.93 319.99,182.55 328.23,183.02 336.46,183.33 344.64,183.49 352.88,183.64 361.11,183.80 377.52,183.96 402.18,184.11 513.10,186.76" fill="none" stroke="#1414ff" stroke-width="1"/>
<polyline points="221.39,187.70 229.62,151.20 237.86,133.41 246.04,155.41 254.28,158.84 262.51,168.04 270.69,173.66 278.93,176.47 287.16,179.43 295.34,180.99 303.57,182.24 311.81,182.86 319.99,183.33 328.23,183.64 336.46,183.96 344.64,184.11 352.88,184.27 361.11,184.42 377.52,184.58 402.18,184.74 513.10,185.67" fill="none" stroke="#10c010" stroke-width="1"/>
<polyline points="221.39,184.11 229.62,141.99 237.86,122.34 246.04,115.94 254.28,129.51 262.51,157.28 270.69,166.64 278.93,172.88 287.16,176.78 295.34,178.81 303.57,179.74 311.81,180.37 319.99,180.68 328.23,180.99 336.46,181.15 344.64,181.30 352.88,181.30 361.11,181.46 377.52,181.46 402.18,181.46 513.10,181.93" fill="none" stroke="#a01ef0" stroke-width="1"/>
<polyline points="221.39,190.51 229.62,168.04 237.86,130.14 246.04,112.82 254.28,126.08 262.51,151.82 270.69,164.46 278.93,171.63 287.16,175.53 295.34,177.72 303.57,178.96 311.81,180.06 319.99,180.68 328.23,181.30 336.46,181.77 344.64,182.24 352.88,182.55 361.11,182.86 377.52,183.18 402.18,183.49 513.10,184.89" fill="none" stroke="#ff1010" stroke-width="1"/>
<path d="M221.39,181.77V188.01M218.89,181.77h5M218.89,188.01h5" stroke="#000000" stroke-width="0.8" fill="none"/>
<path d="M229.62,92.23V160.87M227.12,92.23h5M227.12,160.87h5" stroke="#000000" stroke-width="0.8" fill="none"/>
<path d="M237.86,78.97V133.57M235.36,78.97h5M235.36,133.57h5" stroke="#000000" stroke-width="0.8" fill="none"/>
<path d="M246.04,127.33V142.93M243.54,127.33h5M243.54,142.93h5" stroke="#000000" stroke-width="0.8" fill="none"/>
<path d="M254.28,149.01V164.61M251.78,149.01h5M251.78,164.61h5" stroke="#000000" stroke-width="0.8" fill="none"/>
<path d="M262.51,162.43V174.91M260.01,162.43h5M260.01,174.91h5" stroke="#000000" stroke-width="0.8" fill="none"/>
<path d="M270.69,171.32V180.68M268.19,171.32h5M268.19,180.68h5" stroke="#000000" stroke-width="0.8" fill="none"/>
<path d="M278.93,175.84V182.08M276.43,175.84h5M276.43,182.08h5" stroke="#000000" stroke-width="0.8" fill="none"/>
<path d="M287.16,178.34V183.02M284.66,178.34h5M284.66,183.02h5" stroke="#000000" stroke-width="0.8" fill="none"/>
<path d="M295.34,180.37V183.49M292.84,180.37h5M292.84,183.49h5" stroke="#000000" stroke-width="0.8" fill="none"/>
<path d="M303.57,181.62V184.11M301.07,181.62h5M301.07,184.11h5" stroke="#000000" stroke-width="0.8" fill="none"/>
<path d="M311.81,182.08V183.96M309.31,182.08h5M309.31,183.96h5" stroke="#000000" stroke-width="0.8" fill="none"/>
<path d="M319.99,182.55V184.11M317.49,182.55h5M317.49,184.11h5" stroke="#000000" stroke-width="0.8" fill="none"/>
<path d="M328.23,182.86V184.42M325.73,182.86h5M325.73,184.42h5" stroke="#000000" stroke-width="0.8" fill="none"/>
<path d="M336.46,183.18V184.42M333.96,183.18h5M333.96,184.42h5" stroke="#000000" stroke-width="0.8" fill="none"/>
<path d="M344.64,183.18V184.42M342.14,183.18h5M342.14,184.42h5" stroke="#000000" stroke-width="0.8" fill="none"/>
<path d="M352.88,183.33V184.58M350.38,183.33h5M350.38,184.58h5" stroke="#000000" stroke-width="0.8" fill="none"/>
<path d="M361.11,183.33V184.58M358.61,183.33h5M358.61,184.58h5" stroke="#000000" stroke-width="0.8" fill="none"/>
<path d="M221.39,176.00V185.36M218.89,176.00h5M218.89,185.36h5" stroke="#ff8a1e" stroke-width="0.8" fill="none"/>
<path d="M229.62,100.65V156.81M227.12,100.65h5M227.12,156.81h5" stroke="#ff8a1e" stroke-width="0.8" fill="none"/>
<path d="M237.86,116.56V135.28M235.36,116.56h5M235.36,135.28h5" stroke="#ff8a1e" stroke-width="0.8" fill="none"/>
<path d="M246.04,128.73V147.45M243.54,128.73h5M243.54,147.45h5" stroke="#ff8a1e" stroke-width="0.8" fill="none"/>
<path d="M254.28,147.30V162.90M251.78,147.30h5M251.78,162.90h5" stroke="#ff8a1e" stroke-width="0.8" fill="none"/>
<path d="M262.51,160.40V172.88M260.01,160.40h5M260.01,172.88h5" stroke="#ff8a1e" stroke-width="0.8" fill="none"/>
<path d="M270.69,169.76V179.12M268.19,169.76h5M268.19,179.12h5" stroke="#ff8a1e" stroke-width="0.8" fill="none"/>
<path d="M278.93,174.75V180.99M276.43,174.75h5M276.43,180.99h5" stroke="#ff8a1e" stroke-width="0.8" fill="none"/>
<path d="M287.16,177.40V182.08M284.66,177.40h5M284.66,182.08h5" stroke="#ff8a1e" stroke-width="0.8" fill="none"/>
<path d="M295.34,179.28V182.40M292.84,179.28h5M292.84,182.40h5" stroke="#ff8a1e" stroke-width="0.8" fill="none"/>
<path d="M303.57,180.37V182.86M301.07,180.37h5M301.07,182.86h5" stroke="#ff8a1e" stroke-width="0.8" fill="none"/>
<path d="M311.81,180.99V182.86M309.31,180.99h5M309.31,182.86h5" stroke="#ff8a1e" stroke-width="0.8" fill="none"/>
<path d="M319.99,181.46V183.02M317.49,181.46h5M317.49,183.02h5" stroke="#ff8a1e" stroke-width="0.8" fill="none"/>
<path d="M328.23,181.62V183.18M325.73,181.62h5M325.73,183.18h5" stroke="#ff8a1e" stroke-width="0.8" fill="none"/>
<path d="M336.46,181.93V183.18M333.96,181.93h5M333.96,183.18h5" stroke="#ff8a1e" stroke-width="0.8" fill="none"/>
<path d="M344.64,181.93V183.18M342.14,181.93h5M342.14,183.18h5" stroke="#ff8a1e" stroke-width="0.8" fill="none"/>
<path d="M352.88,181.93V183.18M350.38,181.93h5M350.38,183.18h5" stroke="#ff8a1e" stroke-width="0.8" fill="none"/>
<path d="M361.11,181.93V183.18M358.61,181.93h5M358.61,183.18h5" stroke="#ff8a1e" stroke-width="0.8" fill="none"/>
<path d="M377.52,181.93V183.18M375.02,181.93h5M375.02,183.18h5" stroke="#ff8a1e" stroke-width="0.8" fill="none"/>
<path d="M402.18,181.93V183.18M399.68,181.93h5M399.68,183.18h5" stroke="#ff8a1e" stroke-width="0.8" fill="none"/>
<path d="M221.39,173.97V181.77M218.89,173.97h5M218.89,181.77h5" stroke="#1414ff" stroke-width="0.8" fill="none"/>
<path d="M229.62,122.65V141.37M227.12,122.65h5M227.12,141.37h5" stroke="#1414ff" stroke-width="0.8" fill="none"/>
<path d="M237.86,106.58V122.18M235.36,106.58h5M235.36,122.18h5" stroke="#1414ff" stroke-width="0.8" fill="none"/>
<path d="M246.04,111.88V130.60M243.54,111.88h5M243.54,130.60h5" stroke="#1414ff" stroke-width="0.8" fill="none"/>
<path d="M254.28,138.25V153.85M251.78,138.25h5M251.78,153.85h5" stroke="#1414ff" stroke-width="0.8" fill="none"/>
<path d="M262.51,156.19V168.67M260.01,156.19h5M260.01,168.67h5" stroke="#1414ff" stroke-width="0.8" fill="none"/>
<path d="M270.69,166.17V175.53M268.19,166.17h5M268.19,175.53h5" stroke="#1414ff" stroke-width="0.8" fill="none"/>
<path d="M278.93,172.10V178.34M276.43,172.10h5M276.43,178.34h5" stroke="#1414ff" stroke-width="0.8" fill="none"/>
<path d="M287.16,175.53V180.21M284.66,175.53h5M284.66,180.21h5" stroke="#1414ff" stroke-width="0.8" fill="none"/>
<path d="M295.34,178.34V181.46M292.84,178.34h5M292.84,181.46h5" stroke="#1414ff" stroke-width="0.8" fill="none"/>
<path d="M303.57,179.74V182.24M301.07,179.74h5M301.07,182.24h5" stroke="#1414ff" stroke-width="0.8" fill="none"/>
<path d="M311.81,180.99V182.86M309.31,180.99h5M309.31,182.86h5" stroke="#1414ff" stroke-width="0.8" fill="none"/>
<path d="M319.99,181.77V183.33M317.49,181.77h5M317.49,183.33h5" stroke="#1414ff" stroke-width="0.8" fill="none"/>
<path d="M328.23,182.24V183.80M325.73,182.24h5M325.73,183.80h5" stroke="#1414ff" stroke-width="0.8" fill="none"/>
<path d="M336.46,182.71V183.96M333.96,182.71h5M333.96,183.96h5" stroke="#1414ff" stroke-width="0.8" fill="none"/>
<path d="M344.64,182.86V184.11M342.14,182.86h5M342.14,184.11h5" stroke="#1414ff" stroke-width="0.8" fill="none"/>
<path d="M352.88,183.02V184.27M350.38,183.02h5M350.38,184.27h5" stroke="#1414ff" stroke-width="0.8" fill="none"/>
<path d="M361.11,183.18V184.42M358.61,183.18h5M358.61,184.42h5" stroke="#1414ff" stroke-width="0.8" fill="none"/>
<path d="M221.39,186.14V189.26M218.89,186.14h5M218.89,189.26h5" stroke="#10c010" stroke-width="0.8" fill="none"/>
<path d="M229.62,132.48V169.92M227.12,132.48h5M227.12,169.92h5" stroke="#10c010" stroke-width="0.8" fill="none"/>
<path d="M237.86,117.81V149.01M235.36,117.81h5M235.36,149.01h5" stroke="#10c010" stroke-width="0.8" fill="none"/>
<path d="M246.04,145.27V165.55M243.54,145.27h5M243.54,165.55h5" stroke="#10c010" stroke-width="0.8" fill="none"/>
<path d="M254.28,137.00V180.68M251.78,137.00h5M251.78,180.68h5" stroke="#10c010" stroke-width="0.8" fill="none"/>
<path d="M262.51,153.22V182.86M260.01,153.22h5M260.01,182.86h5" stroke="#10c010" stroke-width="0.8" fill="none"/>
<path d="M270.69,165.86V181.46M268.19,165.86h5M268.19,181.46h5" stroke="#10c010" stroke-width="0.8" fill="none"/>
<path d="M278.93,171.01V181.93M276.43,171.01h5M276.43,181.93h5" stroke="#10c010" stroke-width="0.8" fill="none"/>
<path d="M287.16,175.53V183.33M284.66,175.53h5M284.66,183.33h5" stroke="#10c010" stroke-width="0.8" fill="none"/>
<path d="M295.34,178.65V183.33M292.84,178.65h5M292.84,183.33h5" stroke="#10c010" stroke-width="0.8" fill="none"/>
<path d="M303.57,180.68V183.80M301.07,180.68h5M301.07,183.80h5" stroke="#10c010" stroke-width="0.8" fill="none"/>
<path d="M311.81,181.62V184.11M309.31,181.62h5M309.31,184.11h5" stroke="#10c010" stroke-width="0.8" fill="none"/>
<path d="M319.99,182.40V184.27M317.49,182.40h5M317.49,184.27h5" stroke="#10c010" stroke-width="0.8" fill="none"/>
<path d="M328.23,182.86V184.42M325.73,182.86h5M325.73,184.42h5" stroke="#10c010" stroke-width="0.8" fill="none"/>
<path d="M336.46,183.18V184.74M333.96,183.18h5M333.96,184.74h5" stroke="#10c010" stroke-width="0.8" fill="none"/>
<path d="M344.64,183.49V184.74M342.14,183.49h5M342.14,184.74h5" stroke="#10c010" stroke-width="0.8" fill="none"/>
<path d="M352.88,183.64V184.89M350.38,183.64h5M350.38,184.89h5" stroke="#10c010" stroke-width="0.8" fill="none"/>
<path d="M361.11,183.80V185.05M358.61,183.80h5M358.61,185.05h5" stroke="#10c010" stroke-width="0.8" fill="none"/>
<path d="M377.52,183.96V185.20M375.02,183.96h5M375.02,185.20h5" stroke="#10c010" stroke-width="0.8" fill="none"/>
<path d="M402.18,184.11V185.36M399.68,184.11h5M399.68,185.36h5" stroke="#10c010" stroke-width="0.8" fill="none"/>
<path d="M221.39,180.99V187.23M218.89,180.99h5M218.89,187.23h5" stroke="#a01ef0" stroke-width="0.8" fill="none"/>
<path d="M229.62,126.39V157.59M227.12,126.39h5M227.12,157.59h5" stroke="#a01ef0" stroke-width="0.8" fill="none"/>
<path d="M237.86,109.86V134.82M235.36,109.86h5M235.36,134.82h5" stroke="#a01ef0" stroke-width="0.8" fill="none"/>
<path d="M246.04,105.02V126.86M243.54,105.02h5M243.54,126.86h5" stroke="#a01ef0" stroke-width="0.8" fill="none"/>
<path d="M254.28,107.67V151.35M251.78,107.67h5M251.78,151.35h5" stroke="#a01ef0" stroke-width="0.8" fill="none"/>
<path d="M262.51,137.00V177.56M260.01,137.00h5M260.01,177.56h5" stroke="#a01ef0" stroke-width="0.8" fill="none"/>
<path d="M270.69,153.22V180.06M268.19,153.22h5M268.19,180.06h5" stroke="#a01ef0" stroke-width="0.8" fill="none"/>
<path d="M278.93,163.36V182.40M276.43,163.36h5M276.43,182.40h5" stroke="#a01ef0" stroke-width="0.8" fill="none"/>
<path d="M287.16,169.29V184.27M284.66,169.29h5M284.66,184.27h5" stroke="#a01ef0" stroke-width="0.8" fill="none"/>
<path d="M295.34,173.50V184.11M292.84,173.50h5M292.84,184.11h5" stroke="#a01ef0" stroke-width="0.8" fill="none"/>
<path d="M303.57,175.84V183.64M301.07,175.84h5M301.07,183.64h5" stroke="#a01ef0" stroke-width="0.8" fill="none"/>
<path d="M311.81,177.56V183.18M309.31,177.56h5M309.31,183.18h5" stroke="#a01ef0" stroke-width="0.8" fill="none"/>
<path d="M319.99,178.81V182.55M317.49,178.81h5M317.49,182.55h5" stroke="#a01ef0" stroke-width="0.8" fill="none"/>
<path d="M328.23,179.43V182.55M325.73,179.43h5M325.73,182.55h5" stroke="#a01ef0" stroke-width="0.8" fill="none"/>
<path d="M336.46,179.90V182.40M333.96,179.90h5M333.96,182.40h5" stroke="#a01ef0" stroke-width="0.8" fill="none"/>
<path d="M344.64,180.21V182.40M342.14,180.21h5M342.14,182.40h5" stroke="#a01ef0" stroke-width="0.8" fill="none"/>
<path d="M352.88,180.37V182.24M350.38,180.37h5M350.38,182.24h5" stroke="#a01ef0" stroke-width="0.8" fill="none"/>
<path d="M361.11,180.52V182.40M358.61,180.52h5M358.61,182.40h5" stroke="#a01ef0" stroke-width="0.8" fill="none"/>
<path d="M377.52,180.68V182.24M375.02,180.68h5M375.02,182.24h5" stroke="#a01ef0" stroke-width="0.8" fill="none"/>
<path d="M402.18,180.68V182.24M399.68,180.68h5M399.68,182.24h5" stroke="#a01ef0" stroke-width="0.8" fill="none"/>
<path d="M221.39,189.73V191.29M218.89,189.73h5M218.89,191.29h5" stroke="#ff1010" stroke-width="0.8" fill="none"/>
<path d="M229.62,160.24V175.84M227.12,160.24h5M227.12,175.84h5" stroke="#ff1010" stroke-width="0.8" fill="none"/>
<path d="M237.86,117.66V142.62M235.36,117.66h5M235.36,142.62h5" stroke="#ff1010" stroke-width="0.8" fill="none"/>
<path d="M246.04,98.00V127.64M243.54,98.00h5M243.54,127.64h5" stroke="#ff1010" stroke-width="0.8" fill="none"/>
<path d="M254.28,113.60V138.56M251.78,113.60h5M251.78,138.56h5" stroke="#ff1010" stroke-width="0.8" fill="none"/>
<path d="M262.51,146.36V157.28M260.01,146.36h5M260.01,157.28h5" stroke="#ff1010" stroke-width="0.8" fill="none"/>
<path d="M270.69,161.34V167.58M268.19,161.34h5M268.19,167.58h5" stroke="#ff1010" stroke-width="0.8" fill="none"/>
<path d="M278.93,169.29V173.97M276.43,169.29h5M276.43,173.97h5" stroke="#ff1010" stroke-width="0.8" fill="none"/>
<path d="M287.16,173.66V177.40M284.66,173.66h5M284.66,177.40h5" stroke="#ff1010" stroke-width="0.8" fill="none"/>
<path d="M295.34,176.16V179.28M292.84,176.16h5M292.84,179.28h5" stroke="#ff1010" stroke-width="0.8" fill="none"/>
<path d="M303.57,177.56V180.37M301.07,177.56h5M301.07,180.37h5" stroke="#ff1010" stroke-width="0.8" fill="none"/>
<path d="M311.81,178.81V181.30M309.31,178.81h5M309.31,181.30h5" stroke="#ff1010" stroke-width="0.8" fill="none"/>
<path d="M319.99,179.59V181.77M317.49,179.59h5M317.49,181.77h5" stroke="#ff1010" stroke-width="0.8" fill="none"/>
<path d="M328.23,180.21V182.40M325.73,180.21h5M325.73,182.40h5" stroke="#ff1010" stroke-width="0.8" fill="none"/>
<path d="M336.46,180.84V182.71M333.96,180.84h5M333.96,182.71h5" stroke="#ff1010" stroke-width="0.8" fill="none"/>
<path d="M344.64,181.30V183.18M342.14,181.30h5M342.14,183.18h5" stroke="#ff1010" stroke-width="0.8" fill="none"/>
<path d="M352.88,181.77V183.33M350.38,181.77h5M350.38,183.33h5" stroke="#ff1010" stroke-width="0.8" fill="none"/>
<path d="M361.11,182.08V183.64M358.61,182.08h5M358.61,183.64h5" stroke="#ff1010" stroke-width="0.8" fill="none"/>
<path d="M377.52,182.40V183.96M375.02,182.40h5M375.02,183.96h5" stroke="#ff1010" stroke-width="0.8" fill="none"/>
<path d="M402.18,182.71V184.27M399.68,182.71h5M399.68,184.27h5" stroke="#ff1010" stroke-width="0.8" fill="none"/>
<rect x="218.39" y="181.89" width="6.00" height="6.00" fill="#000000"/>
<rect x="226.62" y="123.55" width="6.00" height="6.00" fill="#000000"/>
<rect x="234.86" y="103.27" width="6.00" height="6.00" fill="#000000"/>
<rect x="243.04" y="132.13" width="6.00" height="6.00" fill="#000000"/>
<rect x="251.28" y="153.81" width="6.00" height="6.00" fill="#000000"/>
<rect x="259.51" y="165.67" width="6.00" height="6.00" fill="#000000"/>
<rect x="267.69" y="173.00" width="6.00" height="6.00" fill="#000000"/>
<rect x="275.93" y="175.96" width="6.00" height="6.00" fill="#000000"/>
<rect x="284.16" y="177.68" width="6.00" height="6.00" fill="#000000"/>
<rect x="292.34" y="178.93" width="6.00" height="6.00" fill="#000000"/>
<rect x="300.57" y="179.86" width="6.00" height="6.00" fill="#000000"/>
<rect x="308.81" y="180.02" width="6.00" height="6.00" fill="#000000"/>
<rect x="316.99" y="180.33" width="6.00" height="6.00" fill="#000000"/>
<rect x="325.23" y="180.64" width="6.00" height="6.00" fill="#000000"/>
<rect x="333.46" y="180.80" width="6.00" height="6.00" fill="#000000"/>
<rect x="341.64" y="180.80" width="6.00" height="6.00" fill="#000000"/>
<rect x="349.88" y="180.96" width="6.00" height="6.00" fill="#000000"/>
<rect x="358.11" y="180.96" width="6.00" height="6.00" fill="#000000"/>
<rect x="374.52" y="181.11" width="6.00" height="6.00" fill="#000000"/>
<rect x="399.18" y="181.11" width="6.00" height="6.00" fill="#000000"/>
<circle cx="221.39" cy="180.68" r="2.30" fill="#ff8a1e"/>
<circle cx="229.62" cy="128.73" r="2.30" fill="#ff8a1e"/>
<circle cx="237.86" cy="125.92" r="2.30" fill="#ff8a1e"/>
<circle cx="246.04" cy="138.09" r="2.30" fill="#ff8a1e"/>
<circle cx="254.28" cy="155.10" r="2.30" fill="#ff8a1e"/>
<circle cx="262.51" cy="166.64" r="2.30" fill="#ff8a1e"/>
<circle cx="270.69" cy="174.44" r="2.30" fill="#ff8a1e"/>
<circle cx="278.93" cy="177.87" r="2.30" fill="#ff8a1e"/>
<circle cx="287.16" cy="179.74" r="2.30" fill="#ff8a1e"/>
<circle cx="295.34" cy="180.84" r="2.30" fill="#ff8a1e"/>
<circle cx="303.57" cy="181.62" r="2.30" fill="#ff8a1e"/>
<circle cx="311.81" cy="181.93" r="2.30" fill="#ff8a1e"/>
<circle cx="319.99" cy="182.24" r="2.30" fill="#ff8a1e"/>
<circle cx="328.23" cy="182.40" r="2.30" fill="#ff8a1e"/>
<circle cx="336.46" cy="182.55" r="2.30" fill="#ff8a1e"/>
<circle cx="344.64" cy="182.55" r="2.30" fill="#ff8a1e"/>
<circle cx="352.88" cy="182.55" r="2.30" fill="#ff8a1e"/>
<circle cx="361.11" cy="182.55" r="2.30" fill="#ff8a1e"/>
<circle cx="377.52" cy="182.55" r="2.30" fill="#ff8a1e"/>
<circle cx="402.18" cy="182.55" r="2.30" fill="#ff8a1e"/>
<circle cx="221.39" cy="177.87" r="2.30" fill="#1414ff"/>
<circle cx="229.62" cy="132.01" r="2.30" fill="#1414ff"/>
<circle cx="237.86" cy="114.38" r="2.30" fill="#1414ff"/>
<circle cx="246.04" cy="121.24" r="2.30" fill="#1414ff"/>
<circle cx="254.28" cy="146.05" r="2.30" fill="#1414ff"/>
<circle cx="262.51" cy="162.43" r="2.30" fill="#1414ff"/>
<circle cx="270.69" cy="170.85" r="2.30" fill="#1414ff"/>
<circle cx="278.93" cy="175.22" r="2.30" fill="#1414ff"/>
<circle cx="287.16" cy="177.87" r="2.30" fill="#1414ff"/>
<circle cx="295.34" cy="179.90" r="2.30" fill="#1414ff"/>
<circle cx="303.57" cy="180.99" r="2.30" fill="#1414ff"/>
<circle cx="311.81" cy="181.93" r="2.30" fill="#1414ff"/>
<circle cx="319.99" cy="182.55" r="2.30" fill="#1414ff"/>
<circle cx="328.23" cy="183.02" r="2.30" fill="#1414ff"/>
<circle cx="336.46" cy="183.33" r="2.30" fill="#1414ff"/>
<circle cx="344.64" cy="183.49" r="2.30" fill="#1414ff"/>
<circle cx="352.88" cy="183.64" r="2.30" fill="#1414ff"/>
<circle cx="361.11" cy="183.80" r="2.30" fill="#1414ff"/>
<circle cx="377.52" cy="183.96" r="2.30" fill="#1414ff"/>
<circle cx="402.18" cy="184.11" r="2.30" fill="#1414ff"/>
<polygon points="221.39,190.31 223.89,185.56 218.89,185.56" fill="#10c010"/>
<polygon points="229.62,153.81 232.12,149.06 227.12,149.06" fill="#10c010"/>
<polygon points="237.86,136.02 240.36,131.27 235.36,131.27" fill="#10c010"/>
<polygon points="246.04,158.02 248.54,153.27 243.54,153.27" fill="#10c010"/>
<polygon points="254.28,161.45 256.77,156.70 251.78,156.70" fill="#10c010"/>
<polygon points="262.51,170.66 265.01,165.91 260.01,165.91" fill="#10c010"/>
<polygon points="270.69,176.27 273.19,171.52 268.19,171.52" fill="#10c010"/>
<polygon points="278.93,179.08 281.43,174.33 276.43,174.33" fill="#10c010"/>
<polygon points="287.16,182.04 289.66,177.29 284.66,177.29" fill="#10c010"/>
<polygon points="295.34,183.60 297.84,178.85 292.84,178.85" fill="#10c010"/>
<polygon points="303.57,184.85 306.07,180.10 301.07,180.10" fill="#10c010"/>
<polygon points="311.81,185.48 314.31,180.73 309.31,180.73" fill="#10c010"/>
<polygon points="319.99,185.94 322.49,181.19 317.49,181.19" fill="#10c010"/>
<polygon points="328.23,186.26 330.73,181.51 325.73,181.51" fill="#10c010"/>
<polygon points="336.46,186.57 338.96,181.82 333.96,181.82" fill="#10c010"/>
<polygon points="344.64,186.72 347.14,181.97 342.14,181.97" fill="#10c010"/>
<polygon points="352.88,186.88 355.38,182.13 350.38,182.13" fill="#10c010"/>
<polygon points="361.11,187.04 363.61,182.29 358.61,182.29" fill="#10c010"/>
<polygon points="377.52,187.19 380.02,182.44 375.02,182.44" fill="#10c010"/>
<polygon points="402.18,187.35 404.68,182.60 399.68,182.60" fill="#10c010"/>
<polygon points="221.39,181.22 223.87,184.11 221.39,187.00 218.92,184.11" fill="#a01ef0"/>
<polygon points="229.62,139.10 232.10,141.99 229.62,144.88 227.15,141.99" fill="#a01ef0"/>
<polygon points="237.86,119.45 240.33,122.34 237.86,125.22 235.38,122.34" fill="#a01ef0"/>
<polygon points="246.04,113.05 248.52,115.94 246.04,118.83 243.57,115.94" fill="#a01ef0"/>
<polygon points="254.28,126.62 256.75,129.51 254.28,132.40 251.80,129.51" fill="#a01ef0"/>
<polygon points="262.51,154.39 264.98,157.28 262.51,160.17 260.03,157.28" fill="#a01ef0"/>
<polygon points="270.69,163.75 273.17,166.64 270.69,169.53 268.22,166.64" fill="#a01ef0"/>
<polygon points="278.93,169.99 281.40,172.88 278.93,175.77 276.45,172.88" fill="#a01ef0"/>
<polygon points="287.16,173.89 289.63,176.78 287.16,179.67 284.68,176.78" fill="#a01ef0"/>
<polygon points="295.34,175.92 297.82,178.81 295.34,181.70 292.87,178.81" fill="#a01ef0"/>
<polygon points="303.57,176.86 306.05,179.74 303.57,182.63 301.10,179.74" fill="#a01ef0"/>
<polygon points="311.81,177.48 314.28,180.37 311.81,183.26 309.33,180.37" fill="#a01ef0"/>
<polygon points="319.99,177.79 322.47,180.68 319.99,183.57 317.52,180.68" fill="#a01ef0"/>
<polygon points="328.23,178.10 330.70,180.99 328.23,183.88 325.75,180.99" fill="#a01ef0"/>
<polygon points="336.46,178.26 338.93,181.15 336.46,184.04 333.98,181.15" fill="#a01ef0"/>
<polygon points="344.64,178.42 347.12,181.30 344.64,184.19 342.17,181.30" fill="#a01ef0"/>
<polygon points="352.88,178.42 355.35,181.30 352.88,184.19 350.40,181.30" fill="#a01ef0"/>
<polygon points="361.11,178.57 363.58,181.46 361.11,184.35 358.63,181.46" fill="#a01ef0"/>
<polygon points="377.52,178.57 380.00,181.46 377.52,184.35 375.05,181.46" fill="#a01ef0"/>
<polygon points="402.18,178.57 404.65,181.46 402.18,184.35 399.70,181.46" fill="#a01ef0"/>
<polygon points="221.39,187.63 224.14,192.86 218.64,192.86" fill="#ff1010"/>
<polygon points="229.62,165.17 232.38,170.40 226.88,170.40" fill="#ff1010"/>
<polygon points="237.86,127.26 240.61,132.49 235.11,132.49" fill="#ff1010"/>
<polygon points="246.04,109.95 248.79,115.17 243.29,115.17" fill="#ff1010"/>
<polygon points="254.28,123.21 257.02,128.43 251.53,128.43" fill="#ff1010"/>
<polygon points="262.51,148.95 265.26,154.17 259.76,154.17" fill="#ff1010"/>
<polygon points="270.69,161.58 273.44,166.81 267.94,166.81" fill="#ff1010"/>
<polygon points="278.93,168.76 281.68,173.98 276.18,173.98" fill="#ff1010"/>
<polygon points="287.16,172.66 289.91,177.88 284.41,177.88" fill="#ff1010"/>
<polygon points="295.34,174.84 298.09,180.07 292.59,180.07" fill="#ff1010"/>
<polygon points="303.57,176.09 306.32,181.32 300.82,181.32" fill="#ff1010"/>
<polygon points="311.81,177.18 314.56,182.41 309.06,182.41" fill="#ff1010"/>
<polygon points="319.99,177.81 322.74,183.03 317.24,183.03" fill="#ff1010"/>
<polygon points="328.23,178.43 330.98,183.66 325.48,183.66" fill="#ff1010"/>
<polygon points="336.46,178.90 339.21,184.12 333.71,184.12" fill="#ff1010"/>
<polygon points="344.64,179.37 347.39,184.59 341.89,184.59" fill="#ff1010"/>
<polygon points="352.88,179.68 355.62,184.90 350.12,184.90" fill="#ff1010"/>
<polygon points="361.11,179.99 363.86,185.22 358.36,185.22" fill="#ff1010"/>
<polygon points="377.52,180.30 380.27,185.53 374.77,185.53" fill="#ff1010"/>
<polygon points="402.18,180.61 404.93,185.84 399.43,185.84" fill="#ff1010"/>
</g>
<g stroke="#000" fill="none">
<path d="M217.3,59V196" stroke-width="1.8"/>
<path d="M212.3,191.6H414.7" stroke-width="1.8"/>
<path d="M212.3,160.40H217.3" stroke-width="1.6"/>
<path d="M212.3,129.20H217.3" stroke-width="1.6"/>
<path d="M212.3,98.00H217.3" stroke-width="1.6"/>
<path d="M212.3,66.80H217.3" stroke-width="1.6"/>
<path d="M266.60,191.6V196" stroke-width="1.6"/>
<path d="M315.90,191.6V196" stroke-width="1.6"/>
<path d="M365.20,191.6V196" stroke-width="1.6"/>
<path d="M414.50,191.6V196" stroke-width="1.6"/>
</g>
<text x="210.3" y="194.6" font-size="8.5" font-weight="bold" text-anchor="end" >0</text>
<text x="210.3" y="163.4" font-size="8.5" font-weight="bold" text-anchor="end" >2</text>
<text x="210.3" y="132.2" font-size="8.5" font-weight="bold" text-anchor="end" >4</text>
<text x="210.3" y="101.0" font-size="8.5" font-weight="bold" text-anchor="end" >6</text>
<text x="210.3" y="69.8" font-size="8.5" font-weight="bold" text-anchor="end" >8</text>
<text x="217.3" y="207.9" font-size="8.5" font-weight="bold" text-anchor="middle" >0</text>
<text x="266.6" y="207.9" font-size="8.5" font-weight="bold" text-anchor="middle" >1</text>
<text x="315.9" y="207.9" font-size="8.5" font-weight="bold" text-anchor="middle" >2</text>
<text x="365.2" y="207.9" font-size="8.5" font-weight="bold" text-anchor="middle" >3</text>
<text x="414.5" y="207.9" font-size="8.5" font-weight="bold" text-anchor="middle" >4</text>
<text x="316.5" y="223.6" font-size="10.9" font-weight="bold" text-anchor="middle" >Time (mins)</text>
<text transform="translate(198.7,124.9) rotate(-90)" font-size="10.8" font-weight="bold" text-anchor="middle">SUV (g/mL)</text>
<path d="M476.8,54.0H504.8" stroke="#1414ff" stroke-width="1.6"/>
<circle cx="490.9" cy="54.0" r="4.1" fill="#1414ff"/>
<text x="520.1" y="60.9" font-size="22" font-weight="normal" text-anchor="start" >Baseline</text>
<path d="M476.8,83.2H504.8" stroke="#ff1010" stroke-width="1.6"/>
<polygon points="490.7,79.30 494.7,86.80 486.7,86.80" fill="#ff1010"/>
<text x="520.4" y="90.3" font-size="22" font-weight="normal" text-anchor="start" >Vehicle</text>
<path d="M476.8,118.5H504.8" stroke="#10c010" stroke-width="1.6"/>
<polygon points="490.9,123.00 494.9,114.50 486.9,114.50" fill="#10c010"/>
<text x="520.6" y="126.1" font-size="22" font-weight="normal" text-anchor="start" >0.01 mg/kg</text>
<path d="M477.8,151.7H506" stroke="#a01ef0" stroke-width="1.6"/>
<polygon points="491.8,147.90 495.1,151.70 491.8,155.50 488.5,151.70" fill="#a01ef0"/>
<text x="521.8" y="159.8" font-size="22" font-weight="normal" text-anchor="start" >0.1 mg/kg</text>
<path d="M476.8,187.1H504.8" stroke="#ff8a1e" stroke-width="1.6"/>
<circle cx="490.9" cy="187.1" r="4.1" fill="#ff8a1e"/>
<text x="520.6" y="194.7" font-size="22" font-weight="normal" text-anchor="start" >0.5 mg/kg</text>
<path d="M477.8,222.4H506" stroke="#000000" stroke-width="1.6"/>
<rect x="486.9" y="217.40" width="10" height="10" fill="#000000"/>
<text x="521.8" y="230.0" font-size="22" font-weight="normal" text-anchor="start" >1 mg/kg</text>
<text x="49.6" y="373.2" font-size="16" font-weight="bold" text-anchor="start" >B</text>
<g stroke="#000" fill="none">
<path d="M60.1,399.7V618" stroke-width="2"/>
<path d="M51.4,609.0H374.7" stroke-width="2"/>
<path d="M55.6,600.29H60" stroke-width="2"/>
<path d="M55.6,591.58H60" stroke-width="2"/>
<path d="M55.6,582.87H60" stroke-width="2"/>
<path d="M55.6,574.16H60" stroke-width="2"/>
<path d="M55.6,565.45H60" stroke-width="2"/>
<path d="M55.6,556.74H60" stroke-width="2"/>
<path d="M55.6,548.03H60" stroke-width="2"/>
<path d="M55.6,539.32H60" stroke-width="2"/>
<path d="M55.6,530.61H60" stroke-width="2"/>
<path d="M51.4,521.90H60" stroke-width="2"/>
<path d="M55.6,513.19H60" stroke-width="2"/>
<path d="M55.6,504.48H60" stroke-width="2"/>
<path d="M55.6,495.77H60" stroke-width="2"/>
<path d="M55.6,487.06H60" stroke-width="2"/>
<path d="M55.6,478.35H60" stroke-width="2"/>
<path d="M55.6,469.64H60" stroke-width="2"/>
<path d="M55.6,460.93H60" stroke-width="2"/>
<path d="M55.6,452.22H60" stroke-width="2"/>
<path d="M55.6,443.51H60" stroke-width="2"/>
<path d="M51.4,434.80H60" stroke-width="2"/>
<path d="M55.6,426.09H60" stroke-width="2"/>
<path d="M55.6,417.38H60" stroke-width="2"/>
<path d="M55.6,408.67H60" stroke-width="2"/>
<path d="M55.6,399.96H60" stroke-width="2"/>
<path d="M138.30,609.0V618" stroke-width="2"/>
<path d="M216.80,609.0V618" stroke-width="2"/>
<path d="M295.30,609.0V618" stroke-width="2"/>
<path d="M373.80,609.0V618" stroke-width="2"/>
</g>
<text x="48.9" y="614.8" font-size="16" font-weight="bold" text-anchor="end" >0</text>
<text x="48.9" y="527.7" font-size="16" font-weight="bold" text-anchor="end" >50</text>
<text x="48.9" y="440.6" font-size="16" font-weight="bold" text-anchor="end" >100</text>
<text x="59.8" y="635.6" font-size="16" font-weight="bold" text-anchor="middle" >0</text>
<text x="138.3" y="635.6" font-size="16" font-weight="bold" text-anchor="middle" >20</text>
<text x="216.8" y="635.6" font-size="16" font-weight="bold" text-anchor="middle" >40</text>
<text x="295.3" y="635.6" font-size="16" font-weight="bold" text-anchor="middle" >60</text>
<text x="373.8" y="635.6" font-size="16" font-weight="bold" text-anchor="middle" >80</text>
<text x="217.2" y="661" font-size="17" font-weight="bold" text-anchor="middle" >Time&#160;&#160;(min)</text>
<text transform="translate(12.7,504.2) rotate(-90)" font-size="17" font-weight="bold" text-anchor="middle">Parent (%)</text>
<polyline points="60.4,408.98 60.8,410.67 61.2,412.32 61.6,413.92 62.0,415.48 62.4,416.99 62.8,418.45 63.2,419.87 63.6,421.26 64.0,422.60 64.4,423.90 64.8,425.16 65.2,426.38 65.6,427.56 66.0,428.71 66.4,429.82 66.8,430.90 67.2,431.94 67.6,432.95 68.0,433.93 68.4,434.88 68.8,435.80 69.2,436.69 69.6,437.55 70.0,438.38 70.0,438.38 72.0,442.17 74.0,445.42 76.0,448.25 78.0,450.76 80.0,453.09 82.0,455.31 84.0,457.45 86.0,459.52 88.0,461.51 90.0,463.43 92.0,465.29 94.0,467.08 96.0,468.82 98.0,470.50 100.0,472.12 102.0,473.70 104.0,475.23 106.0,476.72 108.0,478.17 110.0,479.58 112.0,480.96 114.0,482.31 116.0,483.64 118.0,484.94 120.0,486.23 122.0,487.50 124.0,488.75 126.0,490.00 128.0,491.25 130.0,492.49 132.0,493.73 134.0,494.97 136.0,496.21 138.0,497.46 140.0,498.70 142.0,499.94 144.0,501.18 146.0,502.42 148.0,503.66 150.0,504.90 152.0,506.14 154.0,507.37 156.0,508.60 158.0,509.83 160.0,511.06 162.0,512.28 164.0,513.50 166.0,514.71 168.0,515.92 170.0,517.12 172.0,518.32 174.0,519.51 176.0,520.70 178.0,521.88 180.0,523.05 182.0,524.22 184.0,525.38 186.0,526.53 188.0,527.68 190.0,528.81 192.0,529.94 194.0,531.06 196.0,532.17 198.0,533.27 200.0,534.36 202.0,535.44 204.0,536.51 206.0,537.57 208.0,538.61 210.0,539.65 212.0,540.67 214.0,541.69 216.0,542.69 218.0,543.67 220.0,544.65 222.0,545.61 224.0,546.55 226.0,547.49 228.0,548.40 230.0,549.31 232.0,550.20 234.0,551.07 236.0,551.93 238.0,552.77 240.0,553.59 242.0,554.40 244.0,555.19 246.0,555.96 248.0,556.72 250.0,557.46 252.0,558.18 254.0,558.88 256.0,559.56 258.0,560.22 260.0,560.86 262.0,561.48 264.0,562.09 266.0,562.67 268.0,563.23 270.0,563.77 272.0,564.29 274.0,564.78 276.0,565.25 278.0,565.71 280.0,566.13 282.0,566.54 284.0,566.92 286.0,567.28 288.0,567.61 290.0,567.92 292.0,568.20 292.5,568.27" fill="none" stroke="#000" stroke-width="1.3"/>
<circle cx="67.95" cy="435.2" r="4.2" fill="#000"/>
<path d="M79.9,437.4V468.5M75.7,437.4h8.4M75.7,468.5h8.4" stroke="#333" stroke-width="1.3" fill="none"/>
<circle cx="79.9" cy="452.9" r="4.2" fill="#000"/>
<path d="M99.3,459.3V491.1M95.1,459.3h8.4M95.1,491.1h8.4" stroke="#333" stroke-width="1.3" fill="none"/>
<circle cx="99.3" cy="475.0" r="4.2" fill="#000"/>
<path d="M138.7,471.8V510.8M134.5,471.8h8.4M134.5,510.8h8.4" stroke="#333" stroke-width="1.3" fill="none"/>
<circle cx="138.7" cy="491.4" r="4.2" fill="#000"/>
<path d="M177.8,507.0V546.5M173.60000000000002,507.0h8.4M173.60000000000002,546.5h8.4" stroke="#333" stroke-width="1.3" fill="none"/>
<circle cx="177.8" cy="526.9" r="4.2" fill="#000"/>
<path d="M295.6,562.3V575.5M291.40000000000003,562.3h8.4M291.40000000000003,575.5h8.4" stroke="#333" stroke-width="1.3" fill="none"/>
<circle cx="295.6" cy="569.0" r="4.2" fill="#000"/>
<text x="427.8" y="372.7" font-size="16" font-weight="bold" text-anchor="start" >C</text>
<g stroke="#000" fill="none">
<path d="M510,376.5V613.5" stroke-width="2.5"/>
<path d="M499.5,613.5H667.5" stroke-width="2.6" stroke-linecap="round"/>
<path d="M504.4,604.04H510" stroke-width="2.4"/>
<path d="M504.4,594.18H510" stroke-width="2.4"/>
<path d="M504.4,584.32H510" stroke-width="2.4"/>
<path d="M504.4,574.46H510" stroke-width="2.4"/>
<path d="M504.4,564.60H510" stroke-width="2.4"/>
<path d="M504.4,554.74H510" stroke-width="2.4"/>
<path d="M504.4,544.88H510" stroke-width="2.4"/>
<path d="M504.4,535.02H510" stroke-width="2.4"/>
<path d="M504.4,525.16H510" stroke-width="2.4"/>
<path d="M499.9,515.30H510" stroke-width="2.4"/>
<path d="M504.4,505.44H510" stroke-width="2.4"/>
<path d="M504.4,495.58H510" stroke-width="2.4"/>
<path d="M504.4,485.72H510" stroke-width="2.4"/>
<path d="M504.4,475.86H510" stroke-width="2.4"/>
<path d="M504.4,466.00H510" stroke-width="2.4"/>
<path d="M504.4,456.14H510" stroke-width="2.4"/>
<path d="M504.4,446.28H510" stroke-width="2.4"/>
<path d="M504.4,436.42H510" stroke-width="2.4"/>
<path d="M504.4,426.56H510" stroke-width="2.4"/>
<path d="M499.9,416.70H510" stroke-width="2.4"/>
<path d="M504.4,406.84H510" stroke-width="2.4"/>
<path d="M504.4,396.98H510" stroke-width="2.4"/>
<path d="M504.4,387.12H510" stroke-width="2.4"/>
<path d="M504.4,377.26H510" stroke-width="2.4"/>
<path d="M554.4,613.5V623" stroke-width="2.4"/>
<path d="M622.1,613.5V623" stroke-width="2.4"/>
<path d="M534.5,613.5V418.8H575.3V613.5" stroke-width="3.4"/>
<path d="M601.6,613.5V418.8H642.9V613.5" stroke-width="3.4"/>
</g>
<circle cx="535.6" cy="416.8" r="3.5" fill="#000"/>
<circle cx="548.4" cy="416.8" r="3.5" fill="#000"/>
<circle cx="561" cy="416.8" r="3.5" fill="#000"/>
<circle cx="573.6" cy="416.8" r="3.5" fill="#000"/>
<circle cx="607.7" cy="416.8" r="3.5" fill="#000"/>
<circle cx="621.8" cy="416.8" r="3.5" fill="#000"/>
<circle cx="636.1" cy="416.8" r="3.5" fill="#000"/>
<text x="497" y="620.2" font-size="18" font-weight="bold" text-anchor="end" >0</text>
<text x="497" y="521.6" font-size="18" font-weight="bold" text-anchor="end" >50</text>
<text x="497" y="423.0" font-size="18" font-weight="bold" text-anchor="end" >100</text>
<text x="554.4" y="642.6" font-size="18" font-weight="bold" text-anchor="middle" >30</text>
<text x="622.1" y="642.6" font-size="18" font-weight="bold" text-anchor="middle" >60</text>
<text x="588.1" y="672" font-size="19.5" font-weight="bold" text-anchor="middle" >Time&#160;&#160;(min)</text>
<text transform="translate(457,495) rotate(-90)" font-size="19.5" font-weight="bold" text-anchor="middle">Parent (%)</text>
</svg>
</body></html>
